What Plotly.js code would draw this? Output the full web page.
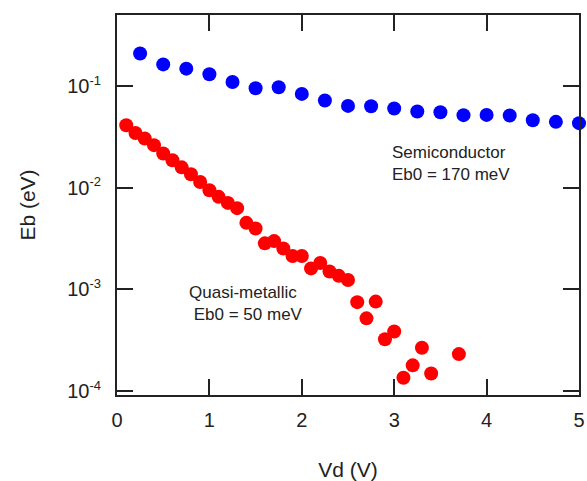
<!DOCTYPE html>
<html>
<head>
<meta charset="utf-8">
<script src="https://cdn.plot.ly/plotly-3.0.1.min.js"></script>
<style>html,body{margin:0;padding:0;background:#fff;}</style>
</head>
<body>
<div id="chart" style="width:587px;height:481px;"></div>
<script>
// Semiconductor series (blue)
const semiX = [0.25,0.5,0.75,1.0,1.25,1.5,1.75,2.0,2.25,2.5,2.75,3.0,3.25,3.5,3.75,4.0,4.25,4.5,4.75,5.0];
const semiY = [0.210,0.164,0.149,0.131,0.110,0.0955,0.0978,0.0840,0.0723,0.0640,0.0636,0.0603,0.0564,0.0555,0.0519,0.0522,0.0515,0.0463,0.0446,0.0433];

// Quasi-metallic series (red)
const quasiX = [0.1,0.2,0.3,0.4,0.5,0.6,0.7,0.8,0.9,1.0,1.1,1.2,1.3,1.4,1.5,1.6,1.7,1.8,1.9,2.0,2.1,2.2,2.3,2.4,2.5,2.6,2.7,2.8,2.9,3.0,3.1,3.2,3.3,3.4,3.7];
const quasiY = [0.0413,0.0347,0.0306,0.0263,0.0218,0.0187,0.0159,0.0136,0.0114,0.00948,0.00815,0.00711,0.00631,0.00452,0.00398,0.00284,0.00299,0.00253,0.00213,0.00213,0.00161,0.00182,0.00150,0.00136,0.00124,0.000750,0.000519,0.000759,0.000323,0.000385,0.000135,0.000179,0.000267,0.000149,0.000231];

// Tick labels
const xTickVals = [0,1,2,3,4,5];
const xTickText = ['0','1','2','3','4','5'];
const yTickVals = [1e-4,1e-3,1e-2,1e-1];
const yExponents = ['-4','-3','-2','-1'];
const yTickText = yExponents.map(e => '10<sup><span style="font-size:13px">' + e + '</span></sup>');

const FONT = 'Liberation Sans, Arial, sans-serif';
const INK = '#222';

const traces = [
  {x: quasiX, y: quasiY, type: 'scatter', mode: 'markers', cliponaxis: false,
   marker: {color: '#ff0000', size: 14, line: {width: 0}}, showlegend: false},
  {x: semiX, y: semiY, type: 'scatter', mode: 'markers', cliponaxis: false,
   marker: {color: '#0000ff', size: 14, line: {width: 0}}, showlegend: false}
];

const layout = {
  width: 587, height: 481,
  margin: {l: 117, r: 8, t: 15, b: 86},
  paper_bgcolor: '#fff', plot_bgcolor: '#fff',
  font: {family: FONT, color: INK, size: 20},
  showlegend: false,
  xaxis: {
    range: [0, 5], tickvals: xTickVals, ticktext: xTickText,
    ticks: 'inside', ticklen: 16, tickwidth: 2, tickcolor: INK,
    showline: true, linewidth: 2, linecolor: INK, mirror: 'ticks',
    showgrid: false, zeroline: false, ticklabelstandoff: 6,
    tickfont: {size: 20, family: FONT, color: INK},
    title: {text: 'Vd (V)', font: {size: 21, family: FONT, color: INK}, standoff: 32}
  },
  yaxis: {
    type: 'log', range: [-4.039, -0.299], tickvals: yTickVals, ticktext: yTickText,
    ticks: 'inside', ticklen: 16, tickwidth: 2, tickcolor: INK,
    showline: true, linewidth: 2, linecolor: INK, mirror: 'ticks',
    showgrid: false, zeroline: false, ticklabelstandoff: 10,
    tickfont: {size: 20, family: FONT, color: INK},
    title: {text: 'Eb (eV)', font: {size: 21, family: FONT, color: INK}, standoff: 26}
  },
  annotations: [
    {xref: 'paper', yref: 'paper', x: 0.5906, y: 0.610, xanchor: 'left', yanchor: 'middle',
     align: 'left', showarrow: false, text: 'Semiconductor<br>Eb0 = 170 meV',
     font: {size: 17, family: FONT, color: INK}},
    {xref: 'paper', yref: 'paper', x: 0.1516, y: 0.242, xanchor: 'left', yanchor: 'middle',
     align: 'left', showarrow: false, text: 'Quasi-metallic<br>\u00a0Eb0 = 50 meV',
     font: {size: 17, family: FONT, color: INK}}
  ]
};

Plotly.newPlot('chart', traces, layout, {displayModeBar: false, staticPlot: true});
</script>
</body>
</html>
